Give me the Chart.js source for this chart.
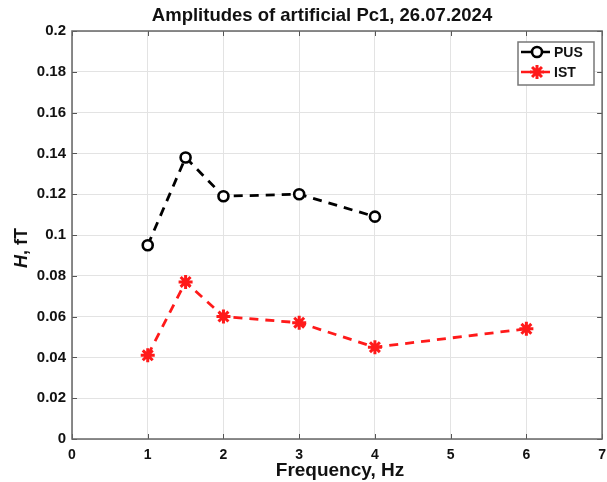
<!DOCTYPE html>
<html>
<head>
<meta charset="utf-8">
<title>Amplitudes of artificial Pc1</title>
<script src="https://cdn.jsdelivr.net/npm/chart.js@4.4.1/dist/chart.umd.min.js"></script>
<style>
  html, body { margin: 0; padding: 0; background: #fff; overflow: hidden; }
  #wrap { width: 607px; height: 482px; position: relative; overflow: hidden; }
</style>
</head>
<body>
<div id="wrap"><canvas id="ampChart" width="614" height="482"></canvas></div>
<script>
// данные
const chartTitle = 'Amplitudes of artificial Pc1, 26.07.2024';
const seriesNames = ['PUS', 'IST'];
const pusFreq = [1, 1.5, 2, 3, 4];
const pusAmp = [0.095, 0.138, 0.119, 0.120, 0.109];
const istFreq = [1, 1.5, 2, 3, 4, 6];
const istAmp = [0.041, 0.077, 0.060, 0.057, 0.045, 0.054];
const xTicks = [0, 1, 2, 3, 4, 5, 6, 7];
const yTicks = [0, 0.02, 0.04, 0.06, 0.08, 0.1, 0.12, 0.14, 0.16, 0.18, 0.2];
const yTickLabels = ['0', '0.02', '0.04', '0.06', '0.08', '0.1', '0.12', '0.14', '0.16', '0.18', '0.2'];

const FONT = '"Liberation Sans", Arial, sans-serif';

function toPoints(xs, ys) {
    return xs.map((x, i) => ({ x: x, y: ys[i] }));
}

// рамка, внутренние засечки, подписи осей, заголовок и легенда
const matlabFrame = {
    id: 'matlabFrame',
    afterDraw(chart) {
        const ctx = chart.ctx;
        const a = chart.chartArea;
        const xs = chart.scales.x, ys = chart.scales.y;
        ctx.save();

        // засечки внутрь
        ctx.strokeStyle = '#555';
        ctx.lineWidth = 1;
        ctx.beginPath();
        xTicks.forEach(v => {
            const px = Math.round(xs.getPixelForValue(v)) + 0.5;
            ctx.moveTo(px, a.bottom); ctx.lineTo(px, a.bottom - 5);
            ctx.moveTo(px, a.top); ctx.lineTo(px, a.top + 5);
        });
        yTicks.forEach(v => {
            const py = Math.round(ys.getPixelForValue(v)) + 0.5;
            ctx.moveTo(a.left, py); ctx.lineTo(a.left + 5, py);
            ctx.moveTo(a.right, py); ctx.lineTo(a.right - 5, py);
        });
        ctx.stroke();

        ctx.lineWidth = 1.5;
        ctx.strokeStyle = '#666';
        ctx.strokeRect(a.left, a.top, a.right - a.left, a.bottom - a.top);

        // заголовок
        ctx.fillStyle = '#111';
        ctx.font = 'bold 18.5px ' + FONT;
        ctx.textAlign = 'center';
        ctx.textBaseline = 'middle';
        ctx.fillText(chartTitle, 322, 16);

        // подпись оси X
        ctx.font = 'bold 19px ' + FONT;
        ctx.fillText('Frequency, Hz', 340, 471);

        // подпись оси Y (H курсивом)
        ctx.save();
        ctx.translate(22, 248);
        ctx.rotate(-Math.PI / 2);
        ctx.textAlign = 'left';
        ctx.font = 'italic bold 18px ' + FONT;
        const w1 = ctx.measureText('H').width;
        ctx.font = 'bold 18px ' + FONT;
        const w2 = ctx.measureText(', fT').width;
        const start = -(w1 + w2) / 2;
        ctx.font = 'italic bold 18px ' + FONT;
        ctx.fillText('H', start, 0);
        ctx.font = 'bold 18px ' + FONT;
        ctx.fillText(', fT', start + w1, 0);
        ctx.restore();

        // легенда
        const bx = 518, by = 42, bw = 76, bh = 43;
        ctx.fillStyle = '#fff';
        ctx.fillRect(bx, by, bw, bh);
        ctx.strokeStyle = '#777';
        ctx.lineWidth = 1.5;
        ctx.strokeRect(bx, by, bw, bh);
        chart.data.datasets.forEach((ds, i) => {
            const ly = by + 10 + i * 20;
            ctx.strokeStyle = ds.borderColor;
            ctx.lineWidth = 2.5;
            ctx.setLineDash([]);
            ctx.beginPath();
            ctx.moveTo(bx + 3, ly);
            ctx.lineTo(bx + 13, ly);
            ctx.moveTo(bx + 25, ly);
            ctx.lineTo(bx + 32, ly);
            ctx.stroke();
            ctx.fillStyle = ds.pointBackgroundColor;
            ctx.strokeStyle = ds.pointBorderColor;
            ctx.lineWidth = ds.pointBorderWidth;
            Chart.helpers.drawPoint(ctx, {
                pointStyle: ds.pointStyle,
                radius: ds.pointRadius,
                borderWidth: ds.pointBorderWidth,
                rotation: 0
            }, bx + 19, ly);
            ctx.fillStyle = '#111';
            ctx.font = 'bold 14px ' + FONT;
            ctx.textAlign = 'left';
            ctx.fillText(ds.label, bx + 36, ly + 1);
        });
        ctx.restore();
    }
};

const ctx = document.getElementById('ampChart').getContext('2d');
new Chart(ctx, {
    type: 'scatter',
    data: {
        datasets: [
            {
                label: seriesNames[0],
                data: toPoints(pusFreq, pusAmp),
                showLine: true,
                borderColor: '#000',
                borderWidth: 2.8,
                borderDash: [9, 7],
                pointStyle: 'circle',
                pointRadius: 5,
                pointBorderWidth: 2.6,
                pointBackgroundColor: '#fff',
                pointBorderColor: '#000'
            },
            {
                label: seriesNames[1],
                data: toPoints(istFreq, istAmp),
                showLine: true,
                borderColor: '#ff1a1a',
                borderWidth: 2.8,
                borderDash: [9, 7],
                pointStyle: 'star',
                pointRadius: 7,
                pointBorderWidth: 3,
                pointBackgroundColor: '#ff1a1a',
                pointBorderColor: '#ff1a1a'
            }
        ]
    },
    options: {
        responsive: false,
        animation: false,
        layout: { padding: { top: 31, right: 0, left: 0, bottom: 0 } },
        plugins: {
            legend: { display: false },
            title: { display: false },
            tooltip: { enabled: false }
        },
        scales: {
            x: {
                type: 'linear',
                min: 0,
                max: 7,
                afterBuildTicks: axis => { axis.ticks = xTicks.map(v => ({ value: v })); },
                afterFit: axis => { axis.height = 43; },
                grid: { color: '#e3e3e3', lineWidth: 1, drawTicks: false },
                border: { display: false },
                ticks: {
                    color: '#111',
                    padding: 8,
                    autoSkip: false,
                    font: { family: FONT, size: 14, weight: 'bold' },
                    maxRotation: 0
                }
            },
            y: {
                type: 'linear',
                min: 0,
                max: 0.2,
                afterBuildTicks: axis => { axis.ticks = yTicks.map(v => ({ value: v })); },
                afterFit: axis => { axis.width = 72; },
                grid: { color: '#e3e3e3', lineWidth: 1, drawTicks: false },
                border: { display: false },
                ticks: {
                    color: '#111',
                    padding: 6,
                    autoSkip: false,
                    font: { family: FONT, size: 15, weight: 'bold' },
                    callback: (v, i) => yTickLabels[i]
                }
            }
        }
    },
    plugins: [matlabFrame]
});
</script>
</body>
</html>
